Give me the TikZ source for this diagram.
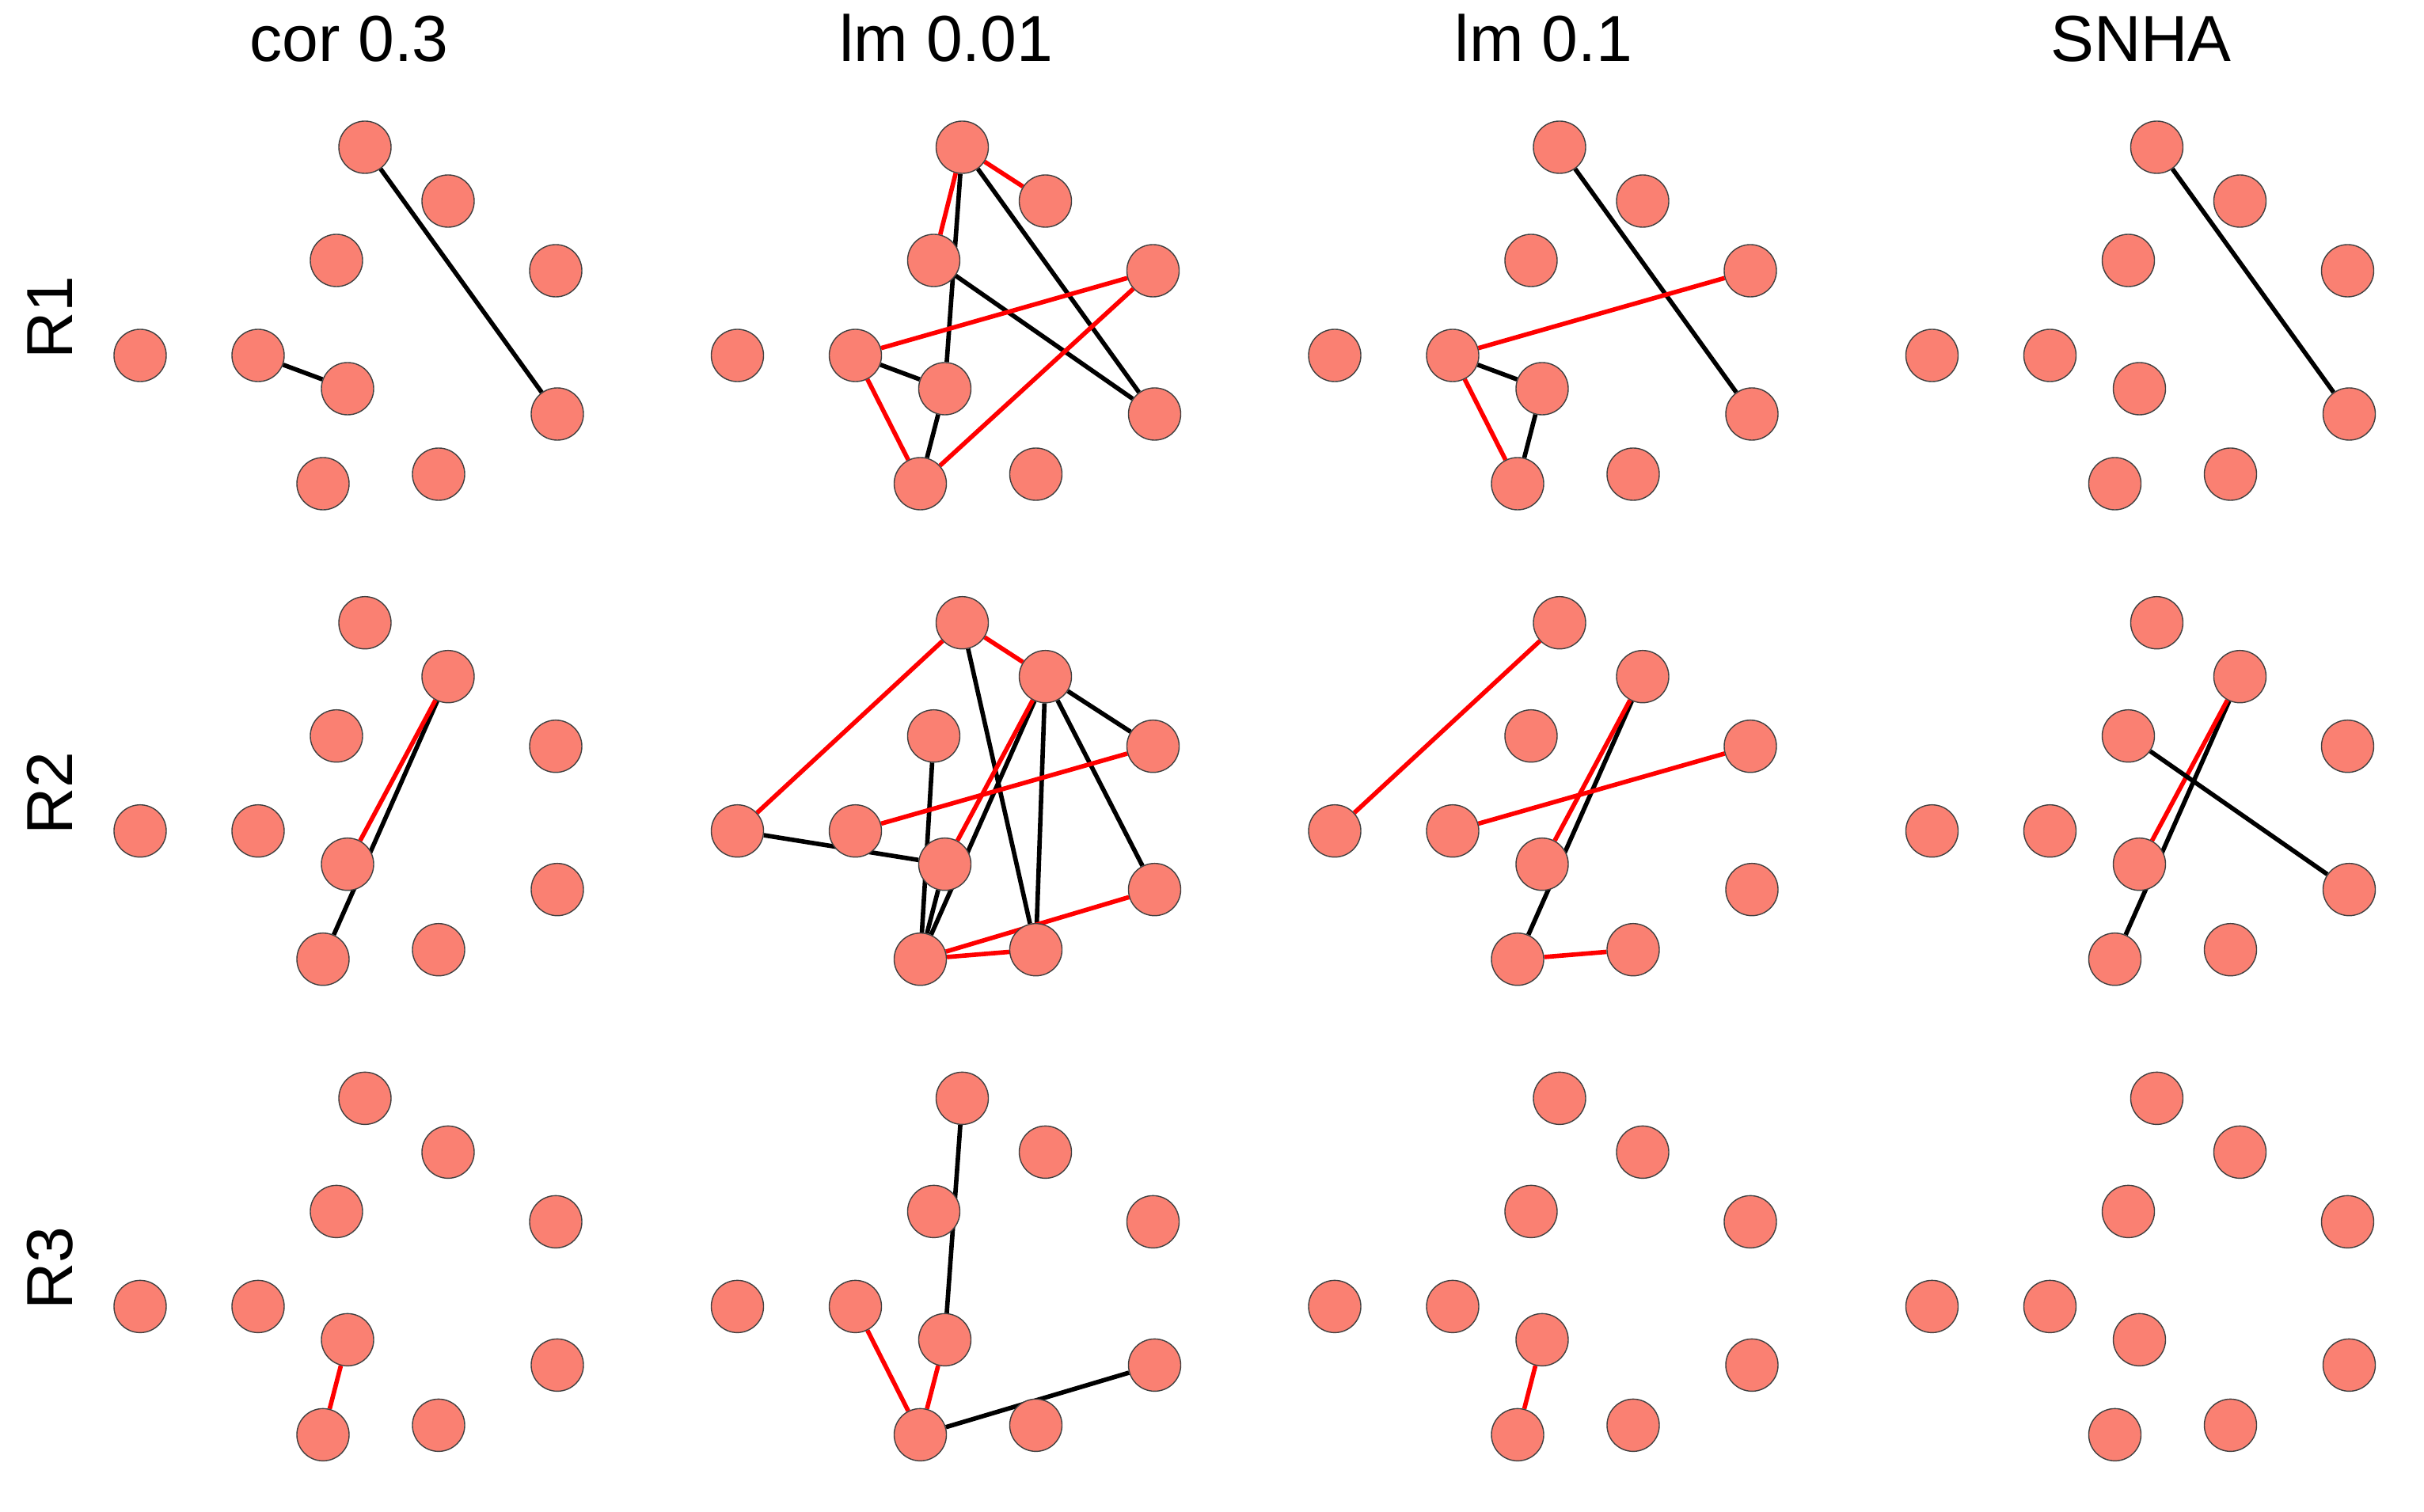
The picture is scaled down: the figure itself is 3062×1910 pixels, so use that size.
\documentclass[tikz,border=0pt]{standalone}
\usepackage{fontspec}
\setmainfont{Liberation Sans}
\pgfdeclarelayer{bg}
\pgfsetlayers{bg,main}
\definecolor{salmonc}{HTML}{FA8072}
\tikzset{
  vtx/.style={circle,fill=salmonc,draw=black!75,line width=0.4pt,minimum size=0.66cm,inner sep=0pt},
  ek/.style={draw=black,line width=1.6pt},
  er/.style={draw=red,line width=1.6pt},
  ttl/.style={font=\fontsize{23.4}{28}\selectfont,anchor=base,inner sep=0pt},
  rlab/.style={font=\fontsize{23.4}{28}\selectfont,rotate=90,inner sep=0pt}
}
\newcommand\mkpanel[3]{%
  \begin{scope}[shift={(#2,#3)}]
    \node[vtx] (#1A) at (461,186) {};
    \node[vtx] (#1B) at (566,254) {};
    \node[vtx] (#1C) at (425,329) {};
    \node[vtx] (#1D) at (702,342) {};
    \node[vtx] (#1E) at (177,449) {};
    \node[vtx] (#1F) at (326,449) {};
    \node[vtx] (#1G) at (439,491) {};
    \node[vtx] (#1H) at (704,523) {};
    \node[vtx] (#1I) at (408,611) {};
    \node[vtx] (#1J) at (554,599) {};
  \end{scope}}
\newcommand\edg[3]{\draw[#1] (#2) -- (#3);}
\begin{document}
\begin{tikzpicture}[x=0.01cm,y=-0.01cm]
\useasboundingbox (0,0) rectangle (3062,1910);
% titles
\node[ttl] (t1) at (441,78) {cor 0.3};
\node[ttl] (t2) at (1195.5,78) {lm 0.01};
\node[ttl] (t3) at (1950,78) {lm 0.1};
\node[ttl] (t4) at (2704.5,78) {SNHA};
% row labels
\node[rlab] (r1) at (63,401) {R1};
\node[rlab] (r2) at (63,1002) {R2};
\node[rlab] (r3) at (63,1602) {R3};
% panels
\mkpanel{pa}{0}{0}
\mkpanel{pb}{754.5}{0}
\mkpanel{pc}{1509}{0}
\mkpanel{pd}{2263.5}{0}
\mkpanel{qa}{0}{600.7}
\mkpanel{qb}{754.5}{600.7}
\mkpanel{qc}{1509}{600.7}
\mkpanel{qd}{2263.5}{600.7}
\mkpanel{sa}{0}{1201.4}
\mkpanel{sb}{754.5}{1201.4}
\mkpanel{sc}{1509}{1201.4}
\mkpanel{sd}{2263.5}{1201.4}
\begin{pgfonlayer}{bg}
% R1
\edg{ek}{paA}{paH} \edg{ek}{paF}{paG}
\edg{er}{pbA}{pbB} \edg{er}{pbA}{pbC} \edg{ek}{pbA}{pbG} \edg{ek}{pbA}{pbH}
\edg{ek}{pbC}{pbH} \edg{er}{pbF}{pbD} \edg{ek}{pbF}{pbG} \edg{er}{pbF}{pbI}
\edg{ek}{pbG}{pbI} \edg{er}{pbI}{pbD}
\edg{ek}{pcA}{pcH} \edg{er}{pcF}{pcD} \edg{ek}{pcF}{pcG} \edg{er}{pcF}{pcI} \edg{ek}{pcG}{pcI}
\edg{ek}{pdA}{pdH}
% R2
\edg{ek}{qaB}{qaI} \edg{er}{qaB}{qaG}
\edg{er}{qbA}{qbE} \edg{er}{qbA}{qbB} \edg{ek}{qbA}{qbJ} \edg{ek}{qbB}{qbD}
\edg{ek}{qbB}{qbH} \edg{ek}{qbB}{qbJ} \edg{ek}{qbB}{qbI} \edg{er}{qbB}{qbG}
\edg{ek}{qbC}{qbI} \edg{ek}{qbG}{qbI} \edg{ek}{qbE}{qbG} \edg{er}{qbF}{qbD}
\edg{er}{qbI}{qbJ} \edg{er}{qbI}{qbH}
\edg{er}{qcA}{qcE} \edg{ek}{qcB}{qcI} \edg{er}{qcB}{qcG} \edg{er}{qcF}{qcD} \edg{er}{qcI}{qcJ}
\edg{ek}{qdB}{qdI} \edg{er}{qdB}{qdG} \edg{ek}{qdC}{qdH}
% R3
\edg{er}{saG}{saI}
\edg{ek}{sbA}{sbG} \edg{er}{sbF}{sbI} \edg{er}{sbG}{sbI} \edg{ek}{sbI}{sbH}
\edg{er}{scG}{scI}
\end{pgfonlayer}
\end{tikzpicture}
\end{document}
